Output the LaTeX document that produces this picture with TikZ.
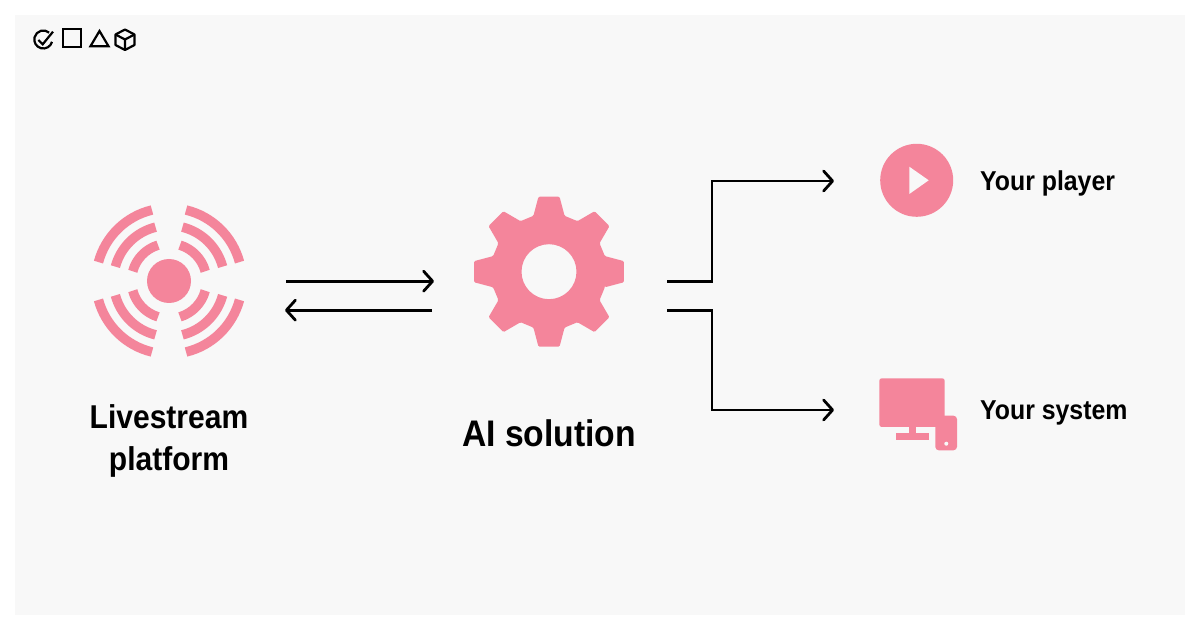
\documentclass[tikz,border=0pt]{standalone}
\usepackage{fontspec}
\setmainfont{Liberation Sans}[FakeStretch=0.91]
\usetikzlibrary{arrows.meta}

\definecolor{panelgray}{HTML}{F8F8F8}
\definecolor{iconpink}{HTML}{F4859B}

\tikzset{
    pinkshape/.style={fill=iconpink, draw=none},
    ringarc/.style={draw=iconpink, line width=9.5pt},
    flowline/.style={line width=2.8pt, -{Straight Barb[length=9pt, width=20pt, round]}},
    logoline/.style={line width=2.2pt, draw=black},
    biglabel/.style={font=\fontsize{33}{42}\selectfont\bfseries, align=center, inner sep=0pt},
    gearfont/.style={font=\fontsize{37}{42}\selectfont\bfseries, inner sep=0pt},
    sidelabel/.style={font=\fontsize{27.3}{34}\selectfont\bfseries, anchor=west, inner sep=0pt},
}

\begin{document}
\begin{tikzpicture}[x=1pt, y=1pt]

    % поле рисунка
    \useasboundingbox (0,0) rectangle (1200,630);
    \fill[white] (0,0) rectangle (1200,630);
    \fill[panelgray] (15,15) rectangle (1185,615);

    % координаты
    \coordinate (live) at (169,349);
    \coordinate (gear) at (549,358.3);
    \coordinate (inA) at (286,348.8);
    \coordinate (inB) at (434,348.8);
    \coordinate (backA) at (432,319.8);
    \coordinate (backB) at (285,319.8);
    \coordinate (outA) at (667,348.8);
    \coordinate (outB) at (834,449);
    \coordinate (sysA) at (667,319.8);
    \coordinate (sysB) at (834,220);

    % значки вверху
    \draw[logoline] (43.3,590.5) ++(-15:9) arc (-15:-310:9);
    \draw[logoline] (38.3,590) -- (42.7,585.7) -- (53,598.3);
    \draw[logoline] (63,583.2) rectangle (81,600.8);
    \draw[logoline, line join=miter] (99.5,599) -- (108.5,583.8) -- (90.5,583.8) -- cycle;
    \draw[logoline, line join=round] (125,600.5) -- (134.5,595.5) -- (134.5,585) -- (125,580) -- (115.5,585) -- (115.5,595.5) -- cycle;
    \draw[logoline, line join=round] (115.5,595.5) -- (125,590.5) -- (134.5,595.5) (125,590.5) -- (125,580);

    % источник
    \fill[pinkshape] (live) circle (22);
    \foreach \sx/\sy in {1/1,-1/1,1/-1,-1/-1} {
        \begin{scope}[shift={(live)}, xscale=\sx, yscale=\sy]
            \foreach \r/\e in {37.5/73, 55.5/76, 73/76.5}
                \draw[ringarc] (15:\r) arc (15:\e:\r);
        \end{scope}
    }
    \node[biglabel] (livelabel) at (169,189.5) {Livestream\\platform};

    % шестерня
    \fill[pinkshape, rounded corners=1.2pt, even odd rule, shift={(gear)}]
        (-15.6:58) \foreach \a in {0,45,...,315} {
            -- (\a-15.6:58) -- (\a-8:75.7) -- (\a+8:75.7) -- (\a+15.6:58)
        } -- cycle
        (0,0) circle (27.5);
    \node[gearfont] (gearlabel) at (549,196.5) {AI solution};

    % стрелки
    \draw[flowline] (inA) -- (inB);
    \draw[flowline] (backA) -- (backB);
    \draw[flowline] (outA) -- (712,348.8) -- (712,449) -- (outB);
    \draw[flowline] (sysA) -- (712,319.8) -- (712,220) -- (sysB);

    % плеер
    \coordinate (player) at (916.7,449.7);
    \fill[pinkshape] (player) circle (36.5);
    \fill[panelgray] (909.3,463.3) -- (928.7,449.7) -- (909.3,436) -- cycle;
    \node[sidelabel] (playerlabel) at (980,447) {Your player};

    % монитор и телефон
    \fill[pinkshape, rounded corners=2.5pt] (879.3,251.7) rectangle (944.7,203);
    \fill[pinkshape] (909,204) rectangle (915.7,196.7);
    \fill[pinkshape] (896,196.7) rectangle (928.7,190.3);
    \fill[pinkshape, rounded corners=3.5pt] (935.3,214.3) rectangle (957,179.7);
    \fill[pinkshape] (935.3,214.3) rectangle (944.7,203);
    \fill[panelgray] (946.3,186.3) circle (2);
    \node[sidelabel] (systemlabel) at (980,217.5) {Your system};

\end{tikzpicture}
\end{document}
